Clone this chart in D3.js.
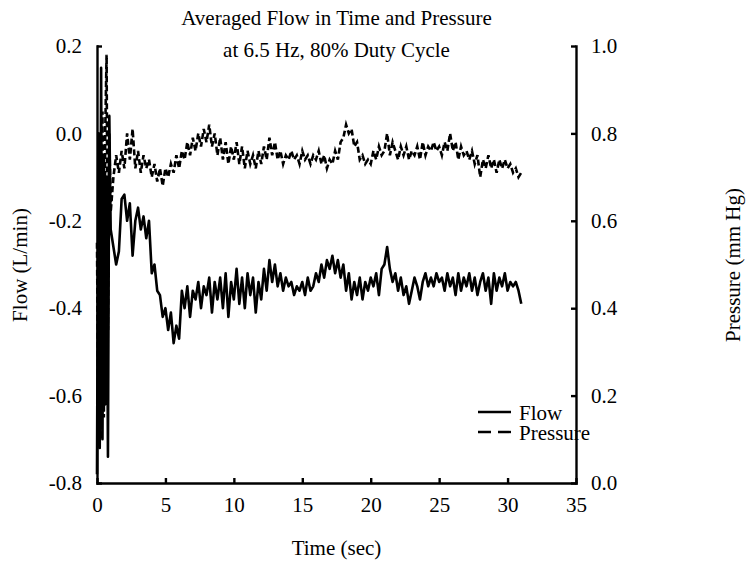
<!DOCTYPE html>
<html>
<head>
	<meta charset="utf-8">
	<title>Averaged Flow in Time and Pressure</title>
	<script src="https://d3js.org/d3.v7.min.js"></script>
	<style>
		body{ margin:0; background:#fff; }
		text{ font-family:"Liberation Serif","Times New Roman",serif; fill:#000; }
		.axis path, .axis line{ stroke:#000; stroke-width:2.4px; }
		.axis text{ font-size:21px; }
	</style>
</head>
<body>
	<svg width="748" height="566"></svg>
<script>
	// sampling: first second at 0.1 s, the rest at 0.2 s
	var startStep = 0.1;
	var bodyStart = 1.2, bodyStep = 0.2;

	var flowStart = [-0.78, 0.00, -0.72, 0.15, -0.70, -0.05, -0.62, -0.10, -0.74, 0.04, -0.22];
	var pressureStart = [0.55, 0.12, 0.80, 0.10, 0.85, 0.15, 0.80, 0.98, 0.35, 0.80, 0.62];

	var flowBody = [
		-0.26, -0.30, -0.27, -0.15,
		-0.14, -0.20, -0.16, -0.28, -0.20,
		-0.17, -0.22, -0.19, -0.24, -0.20,
		-0.32, -0.30, -0.36, -0.37, -0.42,
		-0.40, -0.45, -0.41, -0.48, -0.44,
		-0.47, -0.36, -0.40, -0.35, -0.42,
		-0.36, -0.38, -0.34, -0.40, -0.35,
		-0.37, -0.33, -0.41, -0.34, -0.38,
		-0.33, -0.40, -0.32, -0.42, -0.34,
		-0.38, -0.31, -0.39, -0.33, -0.40,
		-0.32, -0.37, -0.33, -0.41, -0.34,
		-0.38, -0.31, -0.36, -0.29, -0.34,
		-0.30, -0.35, -0.32, -0.36, -0.33,
		-0.35, -0.34, -0.37, -0.35, -0.36,
		-0.34, -0.37, -0.33, -0.36, -0.35,
		-0.32, -0.34, -0.30, -0.33, -0.29,
		-0.31, -0.28, -0.32, -0.29, -0.33,
		-0.30, -0.36, -0.32, -0.38, -0.34,
		-0.37, -0.33, -0.38, -0.34, -0.36,
		-0.33, -0.35, -0.32, -0.37, -0.31,
		-0.30, -0.26, -0.31, -0.34, -0.32,
		-0.36, -0.33, -0.37, -0.35, -0.39,
		-0.36, -0.33, -0.35, -0.38, -0.34,
		-0.32, -0.35, -0.33, -0.35, -0.32,
		-0.34, -0.33, -0.36, -0.32, -0.35,
		-0.33, -0.37, -0.32, -0.36, -0.33,
		-0.35, -0.32, -0.36, -0.33, -0.37,
		-0.34, -0.32, -0.36, -0.33, -0.39,
		-0.32, -0.36, -0.33, -0.35, -0.32,
		-0.36, -0.34, -0.35, -0.34, -0.36,
		-0.39
	];

	var pressureBody = [
		0.70, 0.75, 0.71, 0.76,
		0.72, 0.80, 0.74, 0.81, 0.72,
		0.76, 0.71, 0.75, 0.72, 0.74,
		0.70, 0.73, 0.69, 0.72, 0.68,
		0.72, 0.70, 0.73, 0.71, 0.75,
		0.72, 0.76, 0.74, 0.78, 0.75,
		0.79, 0.76, 0.80, 0.77, 0.81,
		0.78, 0.82, 0.77, 0.80, 0.75,
		0.79, 0.74, 0.78, 0.73, 0.77,
		0.74, 0.78, 0.73, 0.77, 0.72,
		0.76, 0.73, 0.75, 0.72, 0.76,
		0.73, 0.77, 0.74, 0.79, 0.75,
		0.78, 0.74, 0.76, 0.73, 0.75,
		0.74, 0.76, 0.74, 0.75, 0.73,
		0.76, 0.74, 0.75, 0.73, 0.75,
		0.74, 0.76, 0.73, 0.75, 0.72,
		0.74, 0.73, 0.76, 0.74, 0.78,
		0.79, 0.82, 0.80, 0.81, 0.77,
		0.78, 0.74, 0.75, 0.73, 0.74,
		0.73, 0.76, 0.74, 0.77, 0.75,
		0.76, 0.80, 0.75, 0.78, 0.76,
		0.74, 0.77, 0.75, 0.77, 0.74,
		0.76, 0.75, 0.77, 0.74, 0.78,
		0.75, 0.77, 0.76, 0.78, 0.76,
		0.77, 0.75, 0.78, 0.76, 0.80,
		0.76, 0.78, 0.74, 0.77, 0.75,
		0.76, 0.74, 0.76, 0.73, 0.75,
		0.70, 0.74, 0.72, 0.75, 0.72,
		0.74, 0.71, 0.74, 0.72, 0.74,
		0.72, 0.73, 0.71, 0.72, 0.70,
		0.71
	];

	var xTicks = [0, 5, 10, 15, 20, 25, 30, 35];
	var flowTicks = [-0.8, -0.6, -0.4, -0.2, 0.0, 0.2];
	var pressureTicks = [0.0, 0.2, 0.4, 0.6, 0.8, 1.0];
	var titleLines = ["Averaged Flow in Time and Pressure", "at 6.5 Hz, 80% Duty Cycle"];

	function toPoints(startVals, bodyVals){
		var pts = startVals.map(function(v, i){ return [i * startStep, v]; });
		bodyVals.forEach(function(v, i){ pts.push([bodyStart + i * bodyStep, v]); });
		return pts;
	}

	var svg = d3.select('svg');
	var plotLeft = 97, plotRight = 576, plotTop = 46, plotBottom = 483;

	var x = d3.scaleLinear().domain([0, 35]).range([plotLeft, plotRight]);
	var yFlow = d3.scaleLinear().domain([-0.8, 0.2]).range([plotBottom, plotTop]);
	var yPres = d3.scaleLinear().domain([0, 1]).range([plotBottom, plotTop]);

	var line = function(yScale){
		return d3.line()
			.x(function(d){ return x(d[0]); })
			.y(function(d){ return yScale(d[1]); });
	};

	svg.append('path')
		.datum(toPoints(pressureStart, pressureBody))
		.attr('fill', 'none')
		.attr('stroke', '#000')
		.attr('stroke-width', 2.6)
		.attr('stroke-dasharray', '6,3')
		.attr('d', line(yPres));

	svg.append('path')
		.datum(toPoints(flowStart, flowBody))
		.attr('fill', 'none')
		.attr('stroke', '#000')
		.attr('stroke-width', 2.6)
		.attr('stroke-linejoin', 'round')
		.attr('d', line(yFlow));

	// axes, ticks pointing into the plot
	svg.append('g').attr('class', 'axis')
		.attr('transform', 'translate(0,' + plotBottom + ')')
		.call(d3.axisBottom(x).tickValues(xTicks).tickSizeInner(-5).tickSizeOuter(0).tickPadding(14).tickFormat(d3.format('d')));

	svg.append('g').attr('class', 'axis')
		.attr('transform', 'translate(' + plotLeft + ',0)')
		.call(d3.axisLeft(yFlow).tickValues(flowTicks).tickSizeInner(-5).tickSizeOuter(0).tickPadding(15).tickFormat(d3.format('.1f')));

	svg.append('g').attr('class', 'axis')
		.attr('transform', 'translate(' + plotRight + ',0)')
		.call(d3.axisRight(yPres).tickValues(pressureTicks).tickSizeInner(-5).tickSizeOuter(0).tickPadding(15).tickFormat(d3.format('.1f')));

	svg.selectAll('.axis .domain').attr('stroke-linecap', 'square');
	svg.selectAll('.axis text').text(function(){ return this.textContent.replace('\u2212', '-'); });

	// titles
	svg.selectAll('.title').data(titleLines).enter().append('text')
		.attr('class', 'title')
		.attr('x', (plotLeft + plotRight) / 2)
		.attr('y', function(d, i){ return 25 + i * 32; })
		.attr('text-anchor', 'middle')
		.style('font-size', '21px')
		.text(function(d){ return d; });

	svg.append('text')
		.attr('x', (plotLeft + plotRight) / 2).attr('y', 555)
		.attr('text-anchor', 'middle').style('font-size', '21px')
		.text('Time (sec)');

	svg.append('text')
		.attr('transform', 'translate(27,265) rotate(-90)')
		.attr('text-anchor', 'middle').style('font-size', '21px')
		.text('Flow (L/min)');

	svg.append('text')
		.attr('transform', 'translate(740,265) rotate(-90)')
		.attr('text-anchor', 'middle').style('font-size', '21px')
		.text('Pressure (mm Hg)');

	// legend
	var legend = svg.append('g').attr('transform', 'translate(478,412)');
	legend.append('line').attr('x1', 0).attr('x2', 33).attr('y1', 0).attr('y2', 0)
		.attr('stroke', '#000').attr('stroke-width', 2.4);
	legend.append('line').attr('x1', 0).attr('x2', 33).attr('y1', 20).attr('y2', 20)
		.attr('stroke', '#000').attr('stroke-width', 2.4).attr('stroke-dasharray', '13,7');
	legend.append('text').attr('x', 41).attr('y', 8).style('font-size', '21px').text('Flow');
	legend.append('text').attr('x', 41).attr('y', 28).style('font-size', '21px').text('Pressure');
</script>
</body>
</html>
